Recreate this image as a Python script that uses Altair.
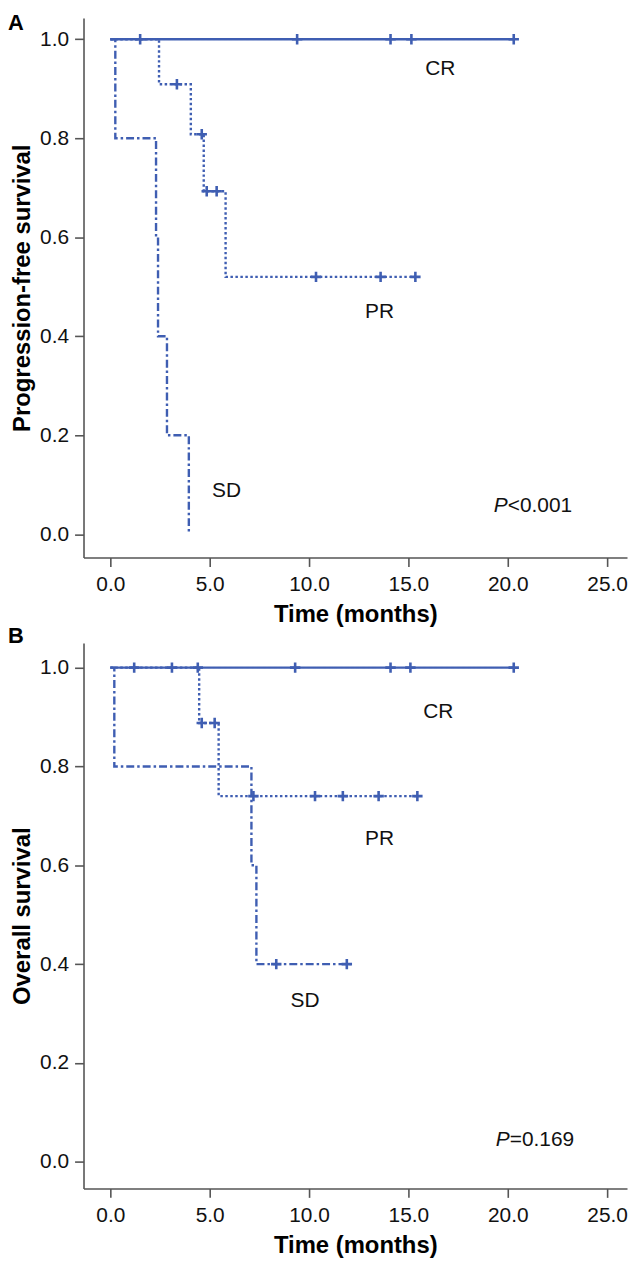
import altair as alt
import pandas as pd

BLUE = "#3f5eb2"
FONT = "Liberation Sans"

# ---------------- Panel A: progression-free survival ----------------
pfs_cr_t = [0.0, 20.3]
pfs_cr_s = [1.0, 1.0]
pfs_cr_cens_t = [1.5, 9.4, 14.1, 15.15, 20.3]
pfs_cr_cens_s = [1.0, 1.0, 1.0, 1.0, 1.0]

pfs_pr_t = [0.0, 2.45, 4.05, 4.7, 5.8, 15.35]
pfs_pr_s = [1.0, 0.909, 0.808, 0.693, 0.52, 0.52]
pfs_pr_cens_t = [3.35, 4.6, 4.85, 5.35, 10.35, 13.6, 15.35]
pfs_pr_cens_s = [0.909, 0.808, 0.693, 0.693, 0.52, 0.52, 0.52]

pfs_sd_t = [0.0, 0.25, 2.3, 2.4, 2.85, 3.95]
pfs_sd_s = [1.0, 0.8, 0.6, 0.4, 0.2, 0.0]

pfs_label_text = ["CR", "PR", "SD"]
pfs_label_t = [16.6, 13.55, 5.85]
pfs_label_s = [0.94, 0.449, 0.087]
pfs_p_t = [20.0]
pfs_p_s = [0.057]
pfs_p_rest = ["<0.001"]

# ---------------- Panel B: overall survival ----------------
os_cr_t = [0.0, 20.3]
os_cr_s = [1.0, 1.0]
os_cr_cens_t = [1.2, 3.1, 4.4, 9.3, 14.1, 15.1, 20.3]
os_cr_cens_s = [1.0, 1.0, 1.0, 1.0, 1.0, 1.0, 1.0]

os_pr_t = [0.0, 4.47, 5.45, 15.45]
os_pr_s = [1.0, 0.888, 0.74, 0.74]
os_pr_cens_t = [4.6, 5.25, 7.2, 10.3, 11.7, 13.5, 15.45]
os_pr_cens_s = [0.888, 0.888, 0.74, 0.74, 0.74, 0.74, 0.74]

os_sd_t = [0.0, 0.2, 7.1, 7.35, 12.1]
os_sd_s = [1.0, 0.8, 0.6, 0.4, 0.4]
os_sd_cens_t = [8.35, 11.9]
os_sd_cens_s = [0.4, 0.4]

os_label_text = ["CR", "PR", "SD"]
os_label_t = [16.5, 13.55, 9.8]
os_label_s = [0.91, 0.654, 0.326]
os_p_t = [20.1]
os_p_s = [0.044]
os_p_rest = ["=0.169"]

x_ticks = [0, 5, 10, 15, 20, 25]
y_ticks = [0.0, 0.2, 0.4, 0.6, 0.8, 1.0]

DASH = {"CR": [1, 0], "PR": [2.5, 2.5], "SD": [8, 3, 2.5, 3]}
CROSS = "M-1,0L1,0M0,-1L0,1"


def make_panel(curves, censors, labels, pval, letter, ytitle, ydomain, height, letter_y):
    X = alt.X("t:Q", scale=alt.Scale(domain=[-1.35, 26.0], nice=False, zero=False),
              axis=alt.Axis(values=x_ticks, format=".1f", title="Time (months)"))
    Y = alt.Y("s:Q", scale=alt.Scale(domain=ydomain, nice=False, zero=False),
              axis=alt.Axis(values=y_ticks, format=".1f", title=ytitle))
    layers = []
    for name, ts, ss in curves:
        df = pd.DataFrame({"t": ts, "s": ss})
        layers.append(
            alt.Chart(df).mark_line(interpolate="step-after", color=BLUE, strokeWidth=2.4,
                                    strokeDash=DASH[name]).encode(x=X, y=Y)
        )
    ct, cs = [], []
    for ts, ss in censors:
        ct += ts
        cs += ss
    cdf = pd.DataFrame({"t": ct, "s": cs})
    layers.append(
        alt.Chart(cdf).mark_point(shape=CROSS, size=110, filled=False, stroke=BLUE,
                                  strokeWidth=2.6, opacity=1).encode(x=X, y=Y)
    )
    ltext, lt, ls = labels
    ldf = pd.DataFrame({"label": ltext, "t": lt, "s": ls})
    layers.append(
        alt.Chart(ldf).mark_text(font=FONT, fontSize=21, color="#111", align="center",
                                 baseline="middle").encode(x=X, y=Y, text="label:N")
    )
    pt, ps, prest = pval
    pdf = pd.DataFrame({"t": pt, "s": ps, "p": ["P"], "rest": prest})
    layers.append(
        alt.Chart(pdf).mark_text(font=FONT, fontSize=21, fontStyle="italic", color="#111",
                                 align="right", baseline="middle").encode(x=X, y=Y, text="p:N")
    )
    layers.append(
        alt.Chart(pdf).mark_text(font=FONT, fontSize=21, color="#111", align="left",
                                 baseline="middle").encode(x=X, y=Y, text="rest:N")
    )
    ldf2 = pd.DataFrame({"letter": [letter]})
    layers.append(
        alt.Chart(ldf2).mark_text(font=FONT, fontSize=22, fontWeight="bold", color="#000",
                                  align="left", baseline="alphabetic").encode(
            x=alt.value(-76), y=alt.value(letter_y), text="letter:N")
    )
    return alt.layer(*layers).properties(width=547, height=height)


top = make_panel(
    [("CR", pfs_cr_t, pfs_cr_s), ("PR", pfs_pr_t, pfs_pr_s), ("SD", pfs_sd_t, pfs_sd_s)],
    [(pfs_cr_cens_t, pfs_cr_cens_s), (pfs_pr_cens_t, pfs_pr_cens_s)],
    (pfs_label_text, pfs_label_t, pfs_label_s),
    (pfs_p_t, pfs_p_s, pfs_p_rest),
    "A", "Progression-free survival", [-0.047, 1.043], 543, 12,
)
bottom = make_panel(
    [("CR", os_cr_t, os_cr_s), ("PR", os_pr_t, os_pr_s), ("SD", os_sd_t, os_sd_s)],
    [(os_cr_cens_t, os_cr_cens_s), (os_pr_cens_t, os_pr_cens_s), (os_sd_cens_t, os_sd_cens_s)],
    (os_label_text, os_label_t, os_label_s),
    (os_p_t, os_p_s, os_p_rest),
    "B", "Overall survival", [-0.054, 1.05], 549, 0,
)

chart = alt.vconcat(top, bottom, spacing=86, bounds="flush").properties(
    padding={"left": 0, "top": 0, "right": 0, "bottom": 0}
).configure_axis(
    grid=False,
    domainColor="#555555", domainWidth=1.6,
    tickColor="#555555", tickWidth=1.6, tickSize=9,
    labelFont=FONT, labelFontSize=21, labelColor="#111", labelPadding=6,
    titleFont=FONT, titleFontSize=24, titleFontWeight="bold", titleColor="#000",
).configure_axisX(titlePadding=8, labelPadding=7).configure_axisY(titlePadding=5).configure_view(stroke=None)

chart.save("out.html", embed_options={"renderer": "svg", "actions": False})
